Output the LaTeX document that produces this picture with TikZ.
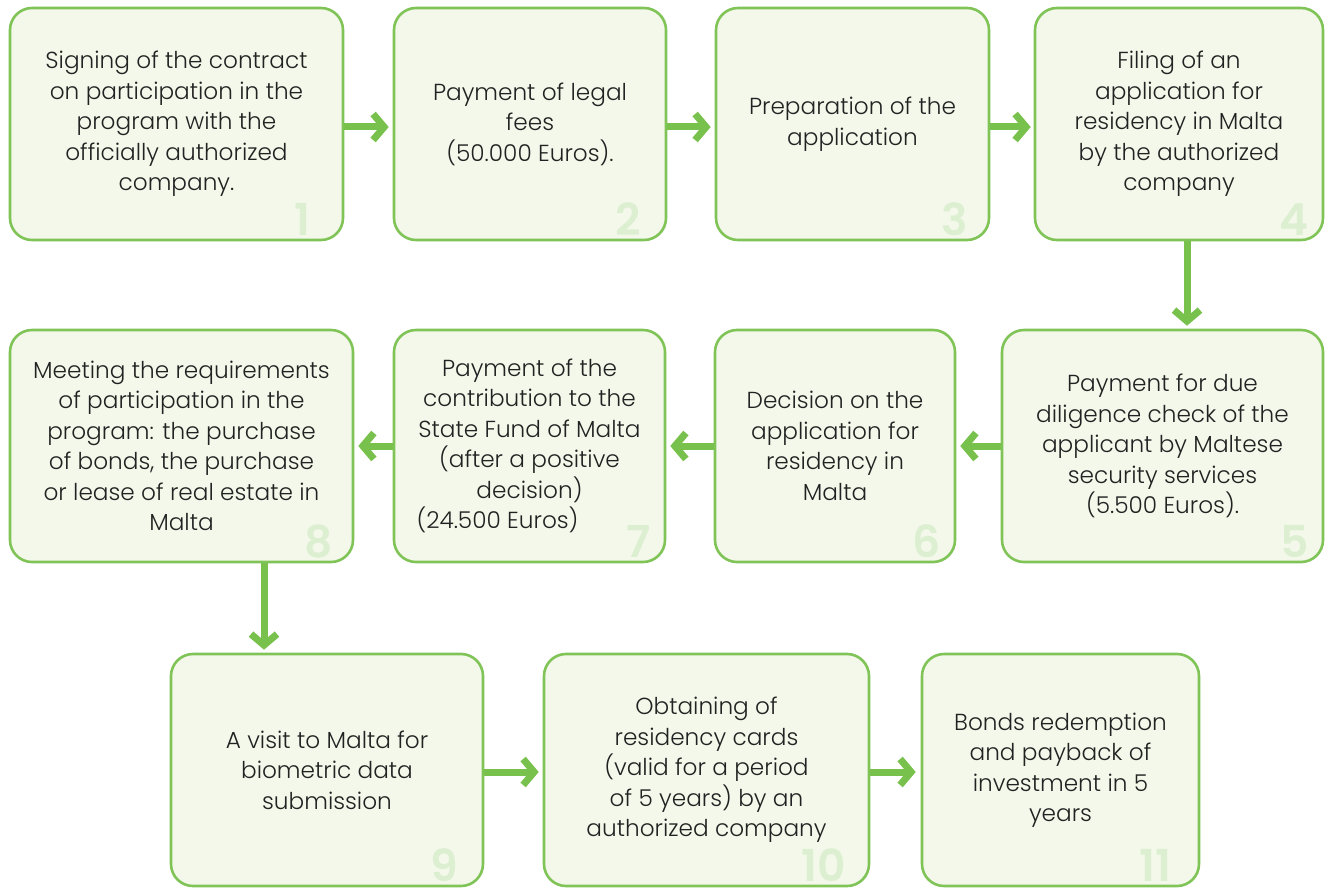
\documentclass[tikz,border=0pt]{standalone}
\usepackage{fontspec}
\setmainfont{Poppins}[UprightFont={* Light},BoldFont={* SemiBold}]
\usetikzlibrary{arrows.meta}
\definecolor{boxfill}{HTML}{F3F8EA}
\definecolor{boxline}{HTML}{80C457}
\definecolor{arrowc}{HTML}{78C14C}
\definecolor{numc}{HTML}{DCEFD0}
\definecolor{txt}{HTML}{222222}
\tikzset{
  box/.style={draw=boxline, fill=boxfill, line width=2.6pt, rounded corners=22pt,
    minimum height=232pt, align=center, text=txt, inner sep=0pt,
    font={\fontsize{23.2}{30.5}\selectfont}},
  numlbl/.style={anchor=base east, text=numc, inner sep=0pt,
    font={\fontsize{44}{44}\selectfont\bfseries}},
  arr/.style={draw=arrowc, line width=7pt, line join=miter,
    -{Straight Barb[length=11pt,width=26pt,line join=miter]}}
}
\newcommand\mkbox[7]{%
  \node[box, minimum width=#4pt] (#1) at (#2,#3) {#6};
  \node[numlbl] at ([xshift=-#7pt,yshift=6pt]#1.south east) {#5};}
\begin{document}
\begin{tikzpicture}[x=1pt,y=-1pt]
\useasboundingbox (0,0) rectangle (1325,888);
\mkbox{b1}{176.5}{124}{333}{1}{Signing of the contract\\on participation in the\\program with the\\officially authorized\\company.}{34}
\mkbox{b2}{530}{124}{272}{2}{Payment of legal\\fees\\(50.000 Euros).}{26}
\mkbox{b3}{852.5}{124}{273}{3}{Preparation of the\\application}{22}
\mkbox{b4}{1179}{124}{288}{4}{Filing of an\\application for\\residency in Malta\\by the authorized\\company}{16}
\mkbox{b5}{1162.5}{446}{321}{5}{Payment for due\\diligence check of the\\applicant by Maltese\\security services\\(5.500 Euros).}{15}
\mkbox{b6}{835}{446}{240}{6}{Decision on the\\application for\\residency in\\Malta}{15}
\mkbox{b7}{529.5}{446}{271}{7}{Payment of the\\contribution to the\\State Fund of Malta\\(after a positive\\decision)\\(24.500 Euros)\hspace*{64pt}}{15}
\mkbox{b8}{181.5}{446}{343}{8}{Meeting the requirements\\of participation in the\\program: the purchase\\of bonds, the purchase\\or lease of real estate in\\Malta}{21}
\mkbox{b9}{327}{770}{312}{9}{A visit to Malta for\\biometric data\\submission}{26}
\mkbox{b10}{706.5}{770}{325}{10}{Obtaining of\\residency cards\\(valid for a period\\of 5 years) by an\\authorized company}{24}
\mkbox{b11}{1060.5}{770}{277}{11}{Bonds redemption\\and payback of\\investment in 5\\years}{29}
\draw[arr] ([yshift=-3pt]b1.east) -- ([xshift=-4pt,yshift=-3pt]b2.west);
\draw[arr] ([yshift=-3pt]b2.east) -- ([xshift=-4pt,yshift=-3pt]b3.west);
\draw[arr] ([yshift=-3pt]b3.east) -- ([xshift=-3pt,yshift=-3pt]b4.west);
\draw[arr] (b4.south -| 1187,0) -- ([yshift=3pt]b5.north -| 1187,0);
\draw[arr] (b5.west) -- ([xshift=4pt]b6.east);
\draw[arr] (b6.west) -- ([xshift=4pt]b7.east);
\draw[arr] (b7.west) -- ([xshift=4pt]b8.east);
\draw[arr] (b8.south -| 264,0) -- ([yshift=3pt]b9.north -| 264,0);
\draw[arr] ([yshift=-2pt]b9.east) -- ([xshift=-4pt,yshift=-2pt]b10.west);
\draw[arr] ([yshift=-2pt]b10.east) -- ([xshift=-5pt,yshift=-2pt]b11.west);
\end{tikzpicture}
\end{document}
